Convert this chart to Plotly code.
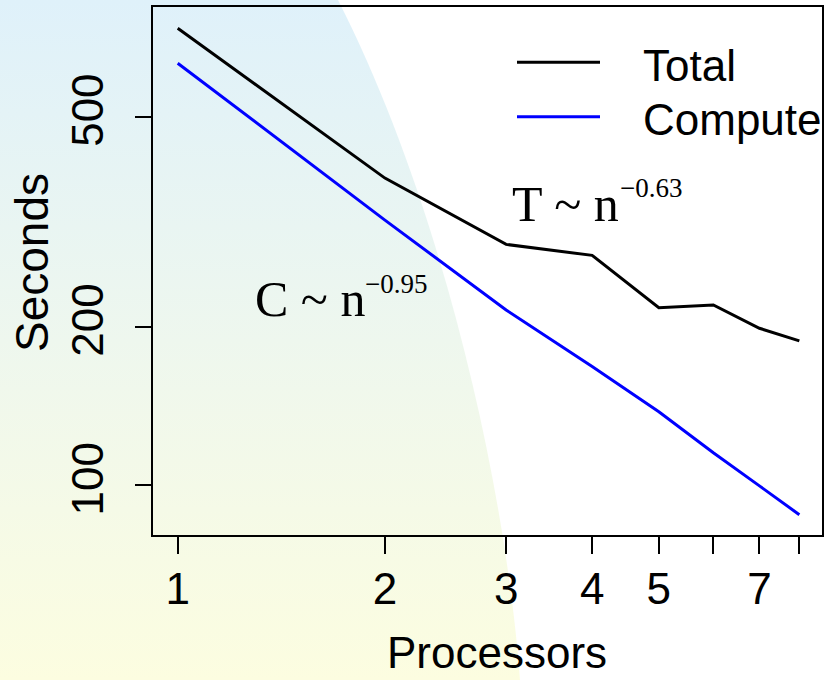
import base64
import plotly.graph_objects as go

# ---- data ----
processors = [1, 2, 3, 4, 5, 6, 7, 8]
total_sec = [735.7, 382.5, 286.4, 273.0, 217.3, 219.8, 198.6, 187.9]
compute_sec = [631.6, 318.4, 215.1, 168.0, 137.9, 115.3, 99.8, 88.0]
x_tickvals = [1, 2, 3, 4, 5, 6, 7, 8]
x_ticktext = ["1", "2", "3", "4", "5", "", "7", ""]
y_tickvals = [100, 200, 500]
y_ticktext = ["100", "200", "500"]

W, H = 825, 680
L, R, T, B = 153, 3, 7, 145
PW, PH = W - L - R, H - T - B


def px(xp):
    return (xp - L) / PW


def py(yp):
    return 1 - (yp - T) / PH


# background: soft gradient region on the left, white on the right
svg = f'''<svg xmlns="http://www.w3.org/2000/svg" width="{W}" height="{H}" viewBox="0 0 {W} {H}" preserveAspectRatio="none">
<defs><linearGradient id="g" x1="0" y1="0" x2="0" y2="1">
<stop offset="0" stop-color="#DFF1FA"/>
<stop offset="0.5" stop-color="#EEF7EE"/>
<stop offset="1" stop-color="#FCFDE0"/>
</linearGradient></defs>
<rect x="0" y="0" width="{W}" height="{H}" fill="#FFFFFF"/>
<path d="M0,0 L338,0 C440,200 505,480 520,680 L0,680 Z" fill="url(#g)"/>
</svg>'''
src = "data:image/svg+xml;base64," + base64.b64encode(svg.encode()).decode()

fig = go.Figure()
fig.add_trace(go.Scatter(x=processors, y=total_sec, mode="lines",
                         line=dict(color="black", width=3), name="Total",
                         showlegend=False))
fig.add_trace(go.Scatter(x=processors, y=compute_sec, mode="lines",
                         line=dict(color="#0000FF", width=3), name="Compute",
                         showlegend=False))

axis_font = dict(family="Liberation Sans, Arial, sans-serif", size=44, color="black")
fig.update_xaxes(type="log", range=[-0.0359, 0.936], tickvals=x_tickvals,
                 ticktext=x_ticktext, ticks="outside", ticklen=17, tickwidth=1.5,
                 tickcolor="black", showline=True, linecolor="black", linewidth=2,
                 mirror=True, showgrid=False, zeroline=False, tickfont=axis_font,
                 ticklabelstandoff=-3, automargin=False)
fig.update_yaxes(type="log", range=[1.906, 2.907], tickvals=y_tickvals,
                 ticktext=y_ticktext, ticks="outside", ticklen=16, tickwidth=1.5,
                 tickcolor="black", showline=True, linecolor="black", linewidth=2,
                 mirror=True, showgrid=False, zeroline=False, tickfont=axis_font,
                 tickangle=-90, ticklabelstandoff=14, automargin=False)

annotations = [
    dict(text="Processors", x=px(497), y=py(652), font=axis_font),
    dict(text="Seconds", x=px(32), y=py(262), textangle=-90,
         font=dict(family=axis_font["family"], size=46, color="black")),
    dict(text="Total", x=px(641), y=py(65), xanchor="left", font=axis_font),
    dict(text="Compute", x=px(641), y=py(119), xanchor="left", font=axis_font),
]
serif = "Liberation Serif, Times New Roman, serif"
annotations += [
    dict(text="C ~ n", x=px(253), y=py(299), xanchor="left",
         font=dict(family=serif, size=50, color="black")),
    dict(text="\u22120.95", x=px(363), y=py(284), xanchor="left",
         font=dict(family=serif, size=27, color="black")),
    dict(text="T ~ n", x=px(510), y=py(204), xanchor="left",
         font=dict(family=serif, size=50, color="black")),
    dict(text="\u22120.63", x=px(618), y=py(188), xanchor="left",
         font=dict(family=serif, size=27, color="black")),
]
for a in annotations:
    a.update(xref="paper", yref="paper", showarrow=False, yanchor=a.get("yanchor", "middle"))
    a.setdefault("xanchor", "center")

shapes = [
    dict(type="line", xref="paper", yref="paper", x0=px(517), x1=px(600),
         y0=py(62.3), y1=py(62.3), line=dict(color="black", width=3)),
    dict(type="line", xref="paper", yref="paper", x0=px(517), x1=px(600),
         y0=py(116.7), y1=py(116.7), line=dict(color="#0000FF", width=3)),
]

fig.update_layout(
    width=W, height=H,
    margin=dict(l=L, r=R, t=T, b=B, autoexpand=False),
    paper_bgcolor="white", plot_bgcolor="rgba(0,0,0,0)",
    showlegend=False,
    annotations=annotations, shapes=shapes,
    images=[dict(source=src, xref="paper", yref="paper", x=-L / PW, y=1 + T / PH,
                 sizex=W / PW, sizey=H / PH, xanchor="left", yanchor="top",
                 sizing="stretch", layer="below")],
)

fig.write_html("out.html", config={"displayModeBar": False},
               post_script="document.body.style.margin='0px';document.body.style.overflow='hidden';")
